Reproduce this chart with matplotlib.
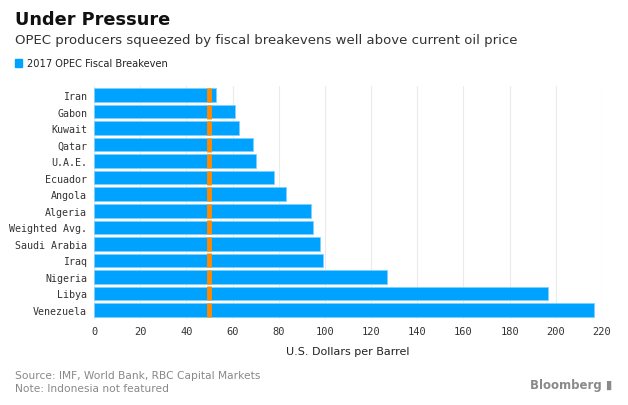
import matplotlib
matplotlib.use("Agg")
import matplotlib.pyplot as plt
import numpy as np

# 2017 OPEC fiscal breakevens, USD per barrel
countries = ['Iran', 'Gabon', 'Kuwait', 'Qatar', 'U.A.E.', 'Ecuador', 'Angola',
             'Algeria', 'Weighted Avg.', 'Saudi Arabia', 'Iraq', 'Nigeria',
             'Libya', 'Venezuela']
breakeven = [53, 61, 63, 69, 70, 78, 83, 94, 95, 98, 99, 127, 196.5, 216.5]
oil_price = 50
xticks = [0, 20, 40, 60, 80, 100, 120, 140, 160, 180, 200, 220]

blue = '#00A2FF'
orange = '#FF8A00'
mono = 'DejaVu Sans Mono'

fig = plt.figure(figsize=(6.28, 4.06), dpi=100)
ax = fig.add_axes([94 / 628, 1 - 320 / 406, (602 - 94) / 628, (320 - 87) / 406])

y = np.arange(len(countries))
ax.barh(y, breakeven, height=0.82, color=blue, edgecolor='#7FD0FF',
        linewidth=0.6, zorder=2)
ax.vlines(np.full(len(y), oil_price), y - 0.42, y + 0.42, color=orange,
          linewidth=3.5, zorder=3)

ax.set_xlim(0, 220)
ax.set_ylim(len(countries) - 0.45, -0.55)
ax.set_xticks(xticks)
ax.set_xticklabels([str(t) for t in xticks], fontfamily=mono, fontsize=7.5,
                   color='#333333')
ax.set_yticks(y)
ax.set_yticklabels(countries, fontfamily=mono, fontsize=7.2, color='#333333')
ax.tick_params(length=0, pad=5)
ax.tick_params(axis='x', pad=5)
ax.grid(axis='x', color='#EBEBEB', linewidth=0.8, zorder=0)
for s in ax.spines.values():
    s.set_visible(False)
ax.set_xlabel('U.S. Dollars per Barrel', fontsize=8, color='#222222', labelpad=7)

fig.text(15 / 628, 1 - 11 / 406, 'Under Pressure', fontsize=12.8,
         fontweight='bold', va='top', color='#111111')
fig.text(15 / 628, 1 - 34 / 406,
         'OPEC producers squeezed by fiscal breakevens well above current oil price',
         fontsize=9.5, va='top', color='#333333')
fig.patches.append(plt.Rectangle((15 / 628, 1 - 68 / 406), 7 / 628, 8 / 406,
                                 transform=fig.transFigure, color=blue))
fig.text(27 / 628, 1 - 64 / 406, '2017 OPEC Fiscal Breakeven', fontsize=7.1,
         va='center', color='#222222')

fig.text(15 / 628, 1 - 376 / 406, 'Source: IMF, World Bank, RBC Capital Markets',
         fontsize=7.7, va='center', color='#888888')
fig.text(15 / 628, 1 - 389 / 406, 'Note: Indonesia not featured',
         fontsize=7.7, va='center', color='#888888')
fig.text(612 / 628, 1 - 386 / 406, 'Bloomberg \u25AE', fontsize=8.5,
         fontweight='bold', ha='right', va='center', color='#8A8A8A')

fig.savefig('out.png', dpi=100, facecolor='white')
